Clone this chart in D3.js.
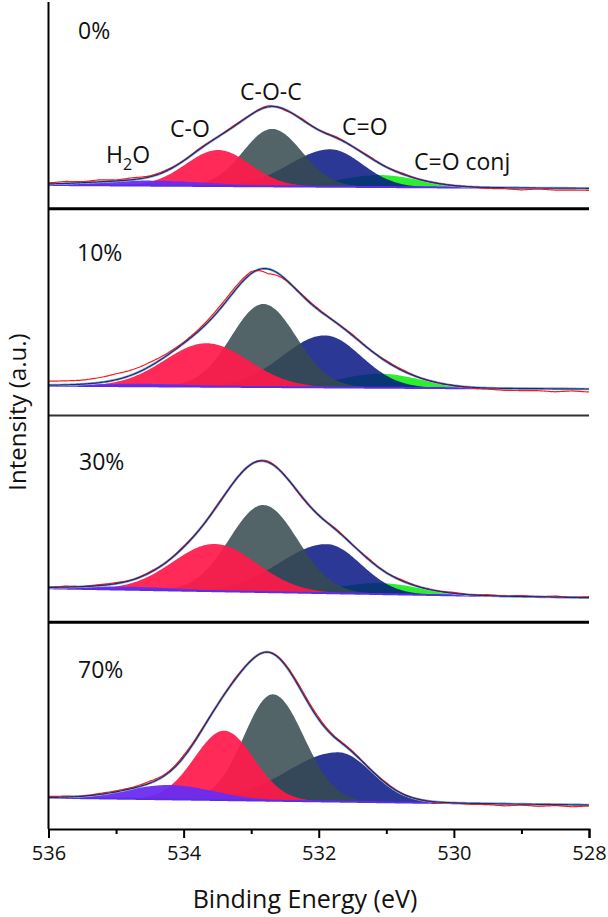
<!DOCTYPE html>
<html><head><meta charset="utf-8">
<script src="https://cdn.jsdelivr.net/npm/d3@7"></script>
<style>body{margin:0;background:#fff}svg{display:block}text{font-family:"Open Sans",sans-serif;fill:#111}</style>
</head><body><div id="chart"></div>
<script>
// ---------------- data ----------------
const panelLabels = ["0%", "10%", "30%", "70%"];
const componentNames = ["H2O", "C-O", "C-O-C", "C=O", "C=O conj"];
// peak centres (eV) per panel: H2O, C-O, C-O-C, C=O, C=O conj
const centers = [
  [534.5, 533.49, 532.69, 531.83, 531.10],
  [534.6, 533.66, 532.82, 531.91, 531.09],
  [534.8, 533.54, 532.82, 531.88, 531.10],
  [534.2, 533.40, 532.68, 531.71, 531.00]
];
// peak heights (a.u.)
const heights = [
  [5, 36, 57.4, 37.4, 12],
  [2.5, 43.4, 83, 52, 14],
  [3, 47.2, 87, 49, 11],
  [14.3, 69.3, 106.4, 49.3, 1]
];
// FWHM on the high-BE side (eV)
const fwhmHigh = [
  [2.0, 1.12, 1.01, 1.39, 1.35],
  [1.8, 1.46, 1.12, 1.46, 1.39],
  [1.8, 1.46, 1.18, 1.64, 1.39],
  [1.53, 1.035, 1.0, 1.78, 1.3]
];
// FWHM on the low-BE side (eV)
const fwhmLow = [
  [2.0, 1.12, 1.04, 1.12, 1.35],
  [1.8, 1.46, 1.15, 1.26, 1.39],
  [1.8, 1.46, 1.2, 1.18, 1.39],
  [1.53, 1.035, 1.08, 1.16, 1.3]
];
// linear background at 536 eV and 528 eV
const bgHigh = [23.75, 29.8, 33.95, 31.3];
const bgLow = [20.45, 26.5, 24.55, 24.0];
// measured-minus-fit residuals on a 0.25 eV grid, 536 -> 528
const residualGrid = d3.range(33).map(i => 536 - i * 0.25);
const residuals = [
  [1,2,1,2,1,2,1,1,0,1,0,1,0,1,-1,1,0,1,0,1,0,1,0,0,0,0,-1,-1,-2,-1,-2,-2,-2],
  [4,4,4,5,6,5,4,2,1,2,3,3,2,-5,-1,1,1,0,1,0,1,1,0,0,0,-1,-1,-2,-2,-2,-3,-2,-3],
  [0,1,0,1,1,0,1,0,1,0,1,0,0,1,0,-1,0,1,0,1,0,1,0,0,1,0,1,0,1,0,1,0,1],
  [1,1,0,1,1,1,2,1,2,1,0,1,0,0,1,2,2,1,1,0,1,0,0,-1,0,-1,-1,-2,-1,-2,-1,-2,-1]
];
const xTicks = [536, 535, 534, 533, 532, 531, 530, 529, 528];
const xTickLabels = ["536", "", "534", "", "532", "", "530", "", "528"];
const peakLabels = ["H2O", "C-O", "C-O-C", "C=O", "C=O conj"];

// ---------------- layout ----------------
const W = 608, H = 917;
const plotLeft = 48.5, plotRight = 589, plotTop = 2, panelH = 206.75;
const fills = ["#6a2cf0", "#ff1a4a", "#374a4f", "#061584", "#22ee22"];
const opac = [0.95, 0.93, 0.86, 0.85, 0.95];
const drawOrder = [4, 3, 2, 1, 0];

const svg = d3.select("#chart").append("svg").attr("width", W).attr("height", H);
const x = d3.scaleLinear().domain([536, 528]).range([plotLeft, plotRight]);
const grid = d3.range(0, 401).map(i => 536 - i * 0.02);

function peak(be, c, h, fH, fL) {
  const f = be >= c ? fH : fL;
  const s = f / 2.35482;
  return h * Math.exp(-((be - c) * (be - c)) / (2 * s * s));
}

panelLabels.forEach((lab, p) => {
  const y = d3.scaleLinear().domain([0, panelH]).range([plotTop + panelH * (p + 1), plotTop + panelH * p]);
  const bg = d3.scaleLinear().domain([536, 528]).range([bgHigh[p], bgLow[p]]);
  const res = d3.scaleLinear().domain(residualGrid).range(residuals[p]);
  const g = svg.append("g");
  const comps = componentNames.map((n, k) => grid.map(be => ({be, b: bg(be), v: peak(be, centers[p][k], heights[p][k], fwhmHigh[p][k], fwhmLow[p][k])})));
  drawOrder.forEach(k => {
    g.append("path").datum(comps[k])
      .attr("d", d3.area().x(d => x(d.be)).y0(d => y(d.b)).y1(d => y(d.b + d.v)))
      .attr("fill", fills[k]).attr("fill-opacity", opac[k]);
  });
  // background line
  g.append("path").datum(grid).attr("d", d3.line().x(d => x(d)).y(d => y(bg(d))))
    .attr("fill", "none").attr("stroke", "#5a2ee8").attr("stroke-width", 2);
  const env = grid.map((be, i) => ({be, v: bg(be) + d3.sum(comps, c => c[i].v)}));
  const line = d3.line().x(d => x(d.be)).y(d => y(d.v));
  g.append("path").datum(env).attr("d", line).attr("fill", "none").attr("stroke", "#8fb4dc").attr("stroke-width", 2.6);
  g.append("path").datum(env.map(d => ({be: d.be, v: d.v + res(d.be)}))).attr("d", line)
    .attr("fill", "none").attr("stroke", "#ff1a1a").attr("stroke-width", 1.2);
  g.append("path").datum(env).attr("d", line).attr("fill", "none").attr("stroke", "#1d2b70").attr("stroke-width", 1.2);
  // panel label
  const lx = [78, 77, 79, 78][p], ly = [39, 261, 470, 678][p];
  g.append("text").attr("x", lx).attr("y", ly).attr("font-size", 23).text(lab);
});

// peak labels (top panel)
const pl = svg.append("g").attr("font-size", 23);
const plPos = [[106, 163], [170, 137], [240, 100], [342, 135], [414, 170]];
peakLabels.forEach((t, i) => {
  const tx = pl.append("text").attr("x", plPos[i][0]).attr("y", plPos[i][1]);
  if (t === "H2O") {
    tx.append("tspan").text("H");
    tx.append("tspan").attr("dy", 7).attr("font-size", 16).text("2");
    tx.append("tspan").attr("dy", -7).text("O");
  } else tx.text(t);
});

// dividers and frame
const div = [
  {y: plotTop + panelH, w: 3, c: "#000"},
  {y: plotTop + panelH * 2, w: 2, c: "#333"},
  {y: plotTop + panelH * 3, w: 3, c: "#000"}
];
div.forEach(d => svg.append("line").attr("x1", plotLeft).attr("x2", plotRight).attr("y1", d.y).attr("y2", d.y)
  .attr("stroke", d.c).attr("stroke-width", d.w));
svg.append("line").attr("x1", plotLeft).attr("x2", plotLeft).attr("y1", plotTop).attr("y2", plotTop + panelH * 4)
  .attr("stroke", "#000").attr("stroke-width", 2);

// x axis
const axisY = plotTop + panelH * 4;
const ax = svg.append("g").attr("transform", `translate(0,${axisY})`)
  .call(d3.axisBottom(x).tickValues(xTicks).tickFormat((d, i) => xTickLabels[i]).tickSizeOuter(0).tickSize(9).tickPadding(8));
ax.select(".domain").attr("stroke", "#000").attr("stroke-width", 2);
ax.selectAll(".tick line").attr("stroke", "#000").attr("stroke-width", 2)
  .attr("y2", (d, i) => xTickLabels[i] ? 9 : 5);
ax.selectAll(".tick text").attr("font-size", 20).attr("font-family", "Open Sans").attr("fill", "#111");

svg.append("text").attr("x", 305).attr("y", 908).attr("text-anchor", "middle").attr("font-size", 25).text("Binding Energy (eV)");
svg.append("text").attr("transform", "translate(26,412) rotate(-90)").attr("text-anchor", "middle").attr("font-size", 24).text("Intensity (a.u.)");
</script></body></html>
